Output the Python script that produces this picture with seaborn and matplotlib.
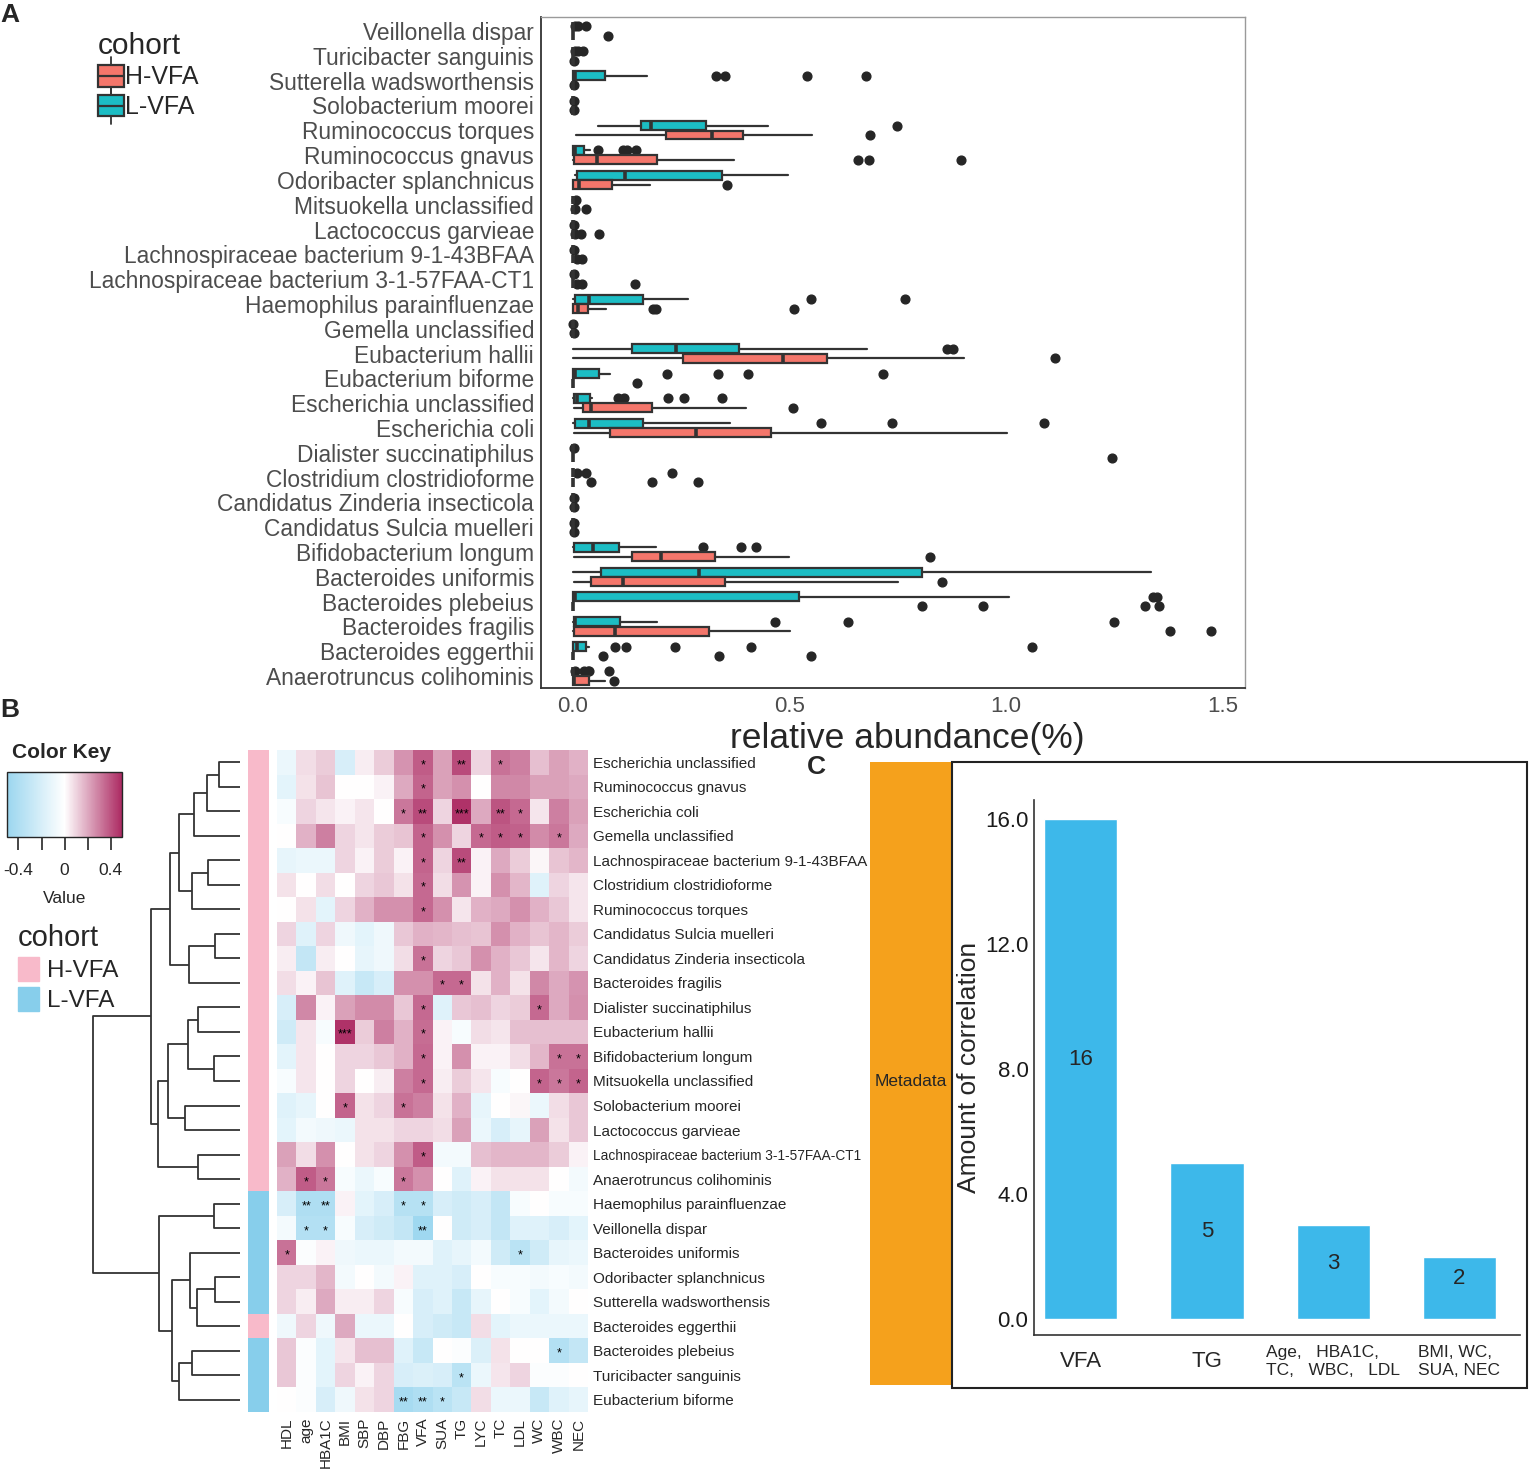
import matplotlib
matplotlib.use("Agg")
import numpy as np
import pandas as pd
import matplotlib.pyplot as plt
import seaborn as sns
from matplotlib.patches import Rectangle, Patch
from matplotlib.lines import Line2D
from matplotlib.legend_handler import HandlerBase
from matplotlib.colors import LinearSegmentedColormap, ListedColormap, Normalize
from matplotlib import font_manager
import matplotlib.cm as cm

# ---------------------------------------------------------------- data: panel A
species_A = ["Veillonella dispar", "Turicibacter sanguinis", "Sutterella wadsworthensis",
             "Solobacterium moorei", "Ruminococcus torques", "Ruminococcus gnavus",
             "Odoribacter splanchnicus", "Mitsuokella unclassified", "Lactococcus garvieae",
             "Lachnospiraceae bacterium 9-1-43BFAA", "Lachnospiraceae bacterium 3-1-57FAA-CT1",
             "Haemophilus parainfluenzae", "Gemella unclassified", "Eubacterium hallii",
             "Eubacterium biforme", "Escherichia unclassified", "Escherichia coli",
             "Dialister succinatiphilus", "Clostridium clostridioforme",
             "Candidatus Zinderia insecticola", "Candidatus Sulcia muelleri",
             "Bifidobacterium longum", "Bacteroides uniformis", "Bacteroides plebeius",
             "Bacteroides fragilis", "Bacteroides eggerthii", "Anaerotruncus colihominis"]

# (whisker low, Q1, median, Q3, whisker high)
L_box = [(0, 0, 0, 0, 0), (0, 0, 0, 0, 0), (0, 0, 0.004, 0.073, 0.171), (0, 0, 0, 0, 0),
         (0.058, 0.157, 0.18, 0.306, 0.451), (0, 0, 0.004, 0.025, 0.04),
         (0.004, 0.009, 0.121, 0.343, 0.496), (0, 0, 0, 0, 0), (0, 0, 0, 0, 0),
         (0, 0, 0, 0, 0), (0, 0, 0, 0, 0), (0, 0.004, 0.038, 0.161, 0.265), (0, 0, 0, 0, 0),
         (0, 0.137, 0.237, 0.383, 0.679), (0, 0, 0.005, 0.059, 0.085),
         (0, 0.002, 0.01, 0.039, 0.044), (0, 0.005, 0.036, 0.162, 0.363), (0, 0, 0, 0, 0),
         (0, 0, 0, 0, 0), (0, 0, 0, 0, 0), (0, 0, 0, 0, 0), (0, 0.002, 0.046, 0.106, 0.192),
         (0, 0.064, 0.29, 0.805, 1.335), (0, 0, 0.005, 0.523, 1.008),
         (0, 0.002, 0.005, 0.108, 0.195), (0, 0, 0.01, 0.029, 0.036), (0, 0, 0, 0, 0)]
L_fliers = [[0.004, 0.011, 0.031], [0.005, 0.012, 0.022], [0.33, 0.35, 0.54, 0.676], [0.002],
            [0.749], [0.058, 0.115, 0.124, 0.146], [], [0.006], [0.002], [0.002], [0.002],
            [0.549, 0.767], [0.001], [0.864, 0.878], [0.216, 0.334, 0.403, 0.716],
            [0.103, 0.118, 0.219, 0.257, 0.345], [0.573, 0.736, 1.088], [0.002],
            [0.01, 0.031, 0.228], [0.002], [0.002], [0.301, 0.389, 0.422], [], [1.34, 1.348],
            [0.466, 0.635, 1.25], [0.096, 0.123, 0.235, 0.412, 1.06],
            [0.004, 0.026, 0.034, 0.038, 0.084]]

H_box = [(0, 0, 0, 0, 0), (0, 0, 0, 0, 0), (0, 0, 0, 0, 0), (0, 0, 0, 0, 0),
         (0.006, 0.214, 0.321, 0.392, 0.553), (0, 0.002, 0.055, 0.194, 0.372),
         (0, 0, 0.014, 0.089, 0.177), (0, 0, 0, 0, 0), (0, 0, 0, 0, 0), (0, 0, 0, 0, 0),
         (0, 0, 0, 0, 0), (0, 0, 0.012, 0.035, 0.075), (0, 0, 0, 0, 0),
         (0, 0.255, 0.484, 0.586, 0.903), (0, 0, 0, 0, 0), (0.002, 0.023, 0.041, 0.183, 0.399),
         (0.002, 0.085, 0.283, 0.457, 1.003), (0, 0, 0, 0, 0), (0, 0, 0, 0, 0),
         (0, 0, 0, 0, 0), (0, 0, 0, 0, 0), (0.002, 0.137, 0.203, 0.327, 0.499),
         (0.002, 0.041, 0.115, 0.35, 0.751), (0, 0, 0, 0, 0), (0, 0.003, 0.096, 0.314, 0.501),
         (0, 0, 0, 0, 0), (0, 0, 0.003, 0.036, 0.074)]
H_fliers = [[0.081], [0.002], [0.002], [0.003], [0.687], [0.658, 0.684, 0.896], [0.355],
            [0.004, 0.029], [0.004, 0.019, 0.059], [0.008, 0.021], [0.008, 0.021, 0.144],
            [0.184, 0.192, 0.511], [0.002], [1.113], [0.147], [0.508], [], [1.245],
            [0.041, 0.183, 0.289], [0.002], [0.002], [0.825], [0.852],
            [0.805, 0.947, 1.32, 1.353], [1.378, 1.474], [0.07, 0.337, 0.549], [0.095]]

# ---------------------------------------------------------------- data: panel B
species_B = ["Escherichia unclassified", "Ruminococcus gnavus", "Escherichia coli",
             "Gemella unclassified", "Lachnospiraceae bacterium 9-1-43BFAA",
             "Clostridium clostridioforme", "Ruminococcus torques", "Candidatus Sulcia muelleri",
             "Candidatus Zinderia insecticola", "Bacteroides fragilis",
             "Dialister succinatiphilus", "Eubacterium hallii", "Bifidobacterium longum",
             "Mitsuokella unclassified", "Solobacterium moorei", "Lactococcus garvieae",
             "Lachnospiraceae bacterium 3-1-57FAA-CT1", "Anaerotruncus colihominis",
             "Haemophilus parainfluenzae", "Veillonella dispar", "Bacteroides uniformis",
             "Odoribacter splanchnicus", "Sutterella wadsworthensis", "Bacteroides eggerthii",
             "Bacteroides plebeius", "Turicibacter sanguinis", "Eubacterium biforme"]
cohort_B = ["H-VFA"] * 18 + ["L-VFA"] * 5 + ["H-VFA"] + ["L-VFA"] * 3
metadata_vars = ["HDL", "age", "HBA1C", "BMI", "SBP", "DBP", "FBG", "VFA", "SUA", "TG",
                 "LYC", "TC", "LDL", "WC", "WBC", "NEC"]
corr_values = [
    [-0.10, 0.08, 0.12, -0.20, 0.04, 0.12, 0.25, 0.38, 0.22, 0.42, 0.10, 0.33, 0.30, 0.15, 0.22, 0.18],
    [-0.14, 0.07, 0.14, 0.00, 0.00, 0.03, 0.20, 0.36, 0.22, 0.26, 0.00, 0.28, 0.28, 0.22, 0.22, 0.20],
    [-0.04, 0.10, 0.06, 0.03, 0.06, 0.00, 0.32, 0.42, 0.10, 0.48, 0.20, 0.40, 0.35, 0.06, 0.30, 0.22],
    [0.00, 0.18, 0.30, 0.10, 0.06, 0.12, 0.14, 0.36, 0.26, 0.10, 0.35, 0.38, 0.37, 0.27, 0.32, 0.20],
    [-0.12, -0.10, -0.10, 0.10, 0.03, 0.12, 0.03, 0.36, 0.10, 0.42, 0.03, 0.20, 0.12, 0.02, 0.14, 0.17],
    [0.07, 0.00, 0.08, 0.00, 0.10, 0.13, 0.07, 0.35, 0.08, 0.25, 0.03, 0.26, 0.17, -0.16, 0.10, 0.06],
    [0.00, 0.07, -0.14, 0.10, 0.18, 0.26, 0.26, 0.35, 0.26, 0.06, 0.18, 0.20, 0.26, 0.18, 0.13, 0.06],
    [0.10, -0.16, 0.10, -0.08, -0.14, -0.08, 0.13, 0.18, 0.17, 0.15, 0.14, 0.26, 0.18, 0.14, 0.17, 0.12],
    [0.04, -0.30, 0.04, 0.00, -0.12, -0.08, 0.08, 0.33, 0.10, 0.13, 0.26, 0.18, 0.13, 0.06, 0.17, 0.10],
    [0.08, 0.03, 0.14, -0.16, -0.28, -0.20, 0.26, 0.26, 0.35, 0.35, 0.07, 0.18, 0.07, 0.28, 0.20, 0.25],
    [-0.20, 0.28, 0.03, 0.22, 0.27, 0.27, 0.13, 0.35, -0.16, 0.13, 0.15, 0.10, 0.12, 0.35, 0.20, 0.26],
    [-0.24, 0.06, -0.04, 0.48, 0.12, 0.30, 0.18, 0.34, 0.03, -0.04, 0.08, 0.06, 0.15, 0.15, 0.15, 0.15],
    [-0.14, 0.06, 0.00, 0.10, 0.10, 0.13, 0.18, 0.35, 0.03, 0.26, 0.03, 0.03, 0.08, 0.17, 0.33, 0.33],
    [-0.04, 0.06, 0.00, 0.10, 0.00, 0.04, 0.30, 0.35, 0.04, 0.12, 0.06, -0.04, 0.00, 0.36, 0.32, 0.36],
    [-0.16, -0.12, 0.00, 0.36, 0.07, 0.10, 0.33, 0.30, 0.07, 0.18, -0.12, 0.00, 0.02, -0.10, 0.08, 0.13],
    [-0.14, -0.06, -0.08, -0.10, 0.07, 0.07, 0.10, 0.10, 0.08, 0.22, -0.10, -0.20, -0.12, 0.22, 0.07, 0.13],
    [0.22, 0.08, 0.26, 0.00, 0.07, 0.10, 0.26, 0.38, -0.06, -0.06, 0.15, 0.17, 0.17, 0.17, 0.12, 0.03],
    [0.18, 0.38, 0.32, -0.04, -0.10, -0.04, 0.32, 0.26, 0.00, -0.16, 0.03, 0.07, 0.07, 0.07, 0.00, -0.06],
    [-0.20, -0.40, -0.40, 0.03, -0.14, -0.20, -0.36, -0.36, -0.20, -0.24, -0.20, -0.30, -0.04, 0.00, -0.04, -0.04],
    [-0.06, -0.38, -0.38, -0.04, -0.20, -0.24, -0.30, -0.48, 0.00, -0.24, -0.20, -0.30, -0.16, -0.16, -0.20, -0.14],
    [0.33, -0.02, 0.03, -0.08, -0.10, -0.10, -0.06, -0.06, -0.16, -0.12, -0.06, -0.24, -0.34, -0.24, -0.12, -0.10],
    [0.10, 0.10, 0.17, -0.06, 0.00, -0.06, 0.03, -0.16, -0.16, -0.20, 0.00, -0.04, -0.04, -0.06, -0.04, -0.06],
    [0.10, 0.04, 0.20, 0.04, 0.04, 0.10, -0.04, -0.20, -0.16, -0.28, -0.12, 0.00, -0.04, -0.14, -0.06, 0.00],
    [-0.08, 0.10, -0.08, 0.20, -0.10, -0.10, 0.00, -0.20, -0.24, -0.28, 0.08, -0.14, -0.10, -0.10, -0.10, -0.10],
    [0.13, -0.02, -0.14, 0.06, 0.15, 0.15, -0.16, -0.28, 0.00, -0.02, -0.18, 0.07, 0.00, 0.00, -0.38, -0.30],
    [0.13, -0.02, -0.14, 0.10, 0.03, 0.10, -0.20, -0.18, -0.20, -0.34, -0.10, 0.06, 0.10, -0.02, -0.02, 0.00],
    [0.00, -0.02, -0.20, -0.08, 0.07, 0.10, -0.44, -0.40, -0.34, -0.28, 0.08, -0.10, -0.10, -0.28, -0.16, -0.12],
]
significance = [
    ("Escherichia unclassified", "VFA", "*"), ("Escherichia unclassified", "TG", "**"),
    ("Escherichia unclassified", "TC", "*"), ("Ruminococcus gnavus", "VFA", "*"),
    ("Escherichia coli", "FBG", "*"), ("Escherichia coli", "VFA", "**"),
    ("Escherichia coli", "TG", "***"), ("Escherichia coli", "TC", "**"),
    ("Escherichia coli", "LDL", "*"), ("Gemella unclassified", "VFA", "*"),
    ("Gemella unclassified", "LYC", "*"), ("Gemella unclassified", "TC", "*"),
    ("Gemella unclassified", "LDL", "*"), ("Gemella unclassified", "WBC", "*"),
    ("Lachnospiraceae bacterium 9-1-43BFAA", "VFA", "*"),
    ("Lachnospiraceae bacterium 9-1-43BFAA", "TG", "**"),
    ("Clostridium clostridioforme", "VFA", "*"), ("Ruminococcus torques", "VFA", "*"),
    ("Candidatus Zinderia insecticola", "VFA", "*"), ("Bacteroides fragilis", "SUA", "*"),
    ("Bacteroides fragilis", "TG", "*"), ("Dialister succinatiphilus", "VFA", "*"),
    ("Dialister succinatiphilus", "WC", "*"), ("Eubacterium hallii", "BMI", "***"),
    ("Eubacterium hallii", "VFA", "*"), ("Bifidobacterium longum", "VFA", "*"),
    ("Bifidobacterium longum", "WBC", "*"), ("Bifidobacterium longum", "NEC", "*"),
    ("Mitsuokella unclassified", "VFA", "*"), ("Mitsuokella unclassified", "WC", "*"),
    ("Mitsuokella unclassified", "WBC", "*"), ("Mitsuokella unclassified", "NEC", "*"),
    ("Solobacterium moorei", "BMI", "*"), ("Solobacterium moorei", "FBG", "*"),
    ("Lachnospiraceae bacterium 3-1-57FAA-CT1", "VFA", "*"),
    ("Anaerotruncus colihominis", "age", "*"), ("Anaerotruncus colihominis", "HBA1C", "*"),
    ("Anaerotruncus colihominis", "FBG", "*"), ("Haemophilus parainfluenzae", "age", "**"),
    ("Haemophilus parainfluenzae", "HBA1C", "**"), ("Haemophilus parainfluenzae", "FBG", "*"),
    ("Haemophilus parainfluenzae", "VFA", "*"), ("Veillonella dispar", "age", "*"),
    ("Veillonella dispar", "HBA1C", "*"), ("Veillonella dispar", "VFA", "**"),
    ("Bacteroides uniformis", "HDL", "*"), ("Bacteroides uniformis", "LDL", "*"),
    ("Bacteroides plebeius", "WBC", "*"), ("Turicibacter sanguinis", "TG", "*"),
    ("Eubacterium biforme", "FBG", "**"), ("Eubacterium biforme", "VFA", "**"),
    ("Eubacterium biforme", "SUA", "*"),
]
# hierarchical clustering of rows: (child a, child b, merge height); leaves 0..26, new ids 27..
dendro_merges = [(0, 1, 21), (27, 2, 33), (28, 3, 46), (4, 5, 32), (30, 6, 48), (29, 31, 61),
                 (7, 8, 25), (33, 9, 51), (32, 34, 70), (10, 11, 42), (12, 13, 26),
                 (36, 37, 52), (14, 15, 55), (38, 39, 72), (16, 17, 42), (40, 41, 82),
                 (35, 42, 89), (18, 19, 26), (21, 22, 25), (45, 23, 43), (20, 46, 50),
                 (24, 25, 48), (48, 26, 61), (47, 49, 68), (44, 50, 81), (43, 51, 147)]

# ---------------------------------------------------------------- data: panel C
c_labels = ["VFA", "TG", "Age,   HBA1C,\nTC,   WBC,   LDL", "BMI, WC,\nSUA, NEC"]
c_counts = [16, 5, 3, 2]

# ---------------------------------------------------------------- style
sns.set_style("white")
plt.rcParams["font.family"] = ["Liberation Sans", "DejaVu Sans"]

try:
    font_manager.findfont("Liberation Sans Narrow", fallback_to_default=False)
    NARROW = ["Liberation Sans Narrow"]
    NARROW_SIZE = 15
except Exception:
    NARROW = ["Liberation Sans"]
    NARROW_SIZE = 12.5

TEAL, RED = "#1CBDC4", "#F4766B"
PINK, BLUE = "#F8BACA", "#87CEEB"
EDGE = "#333333"

W, H = 1536, 1471
fig = plt.figure(figsize=(W / 100, H / 100), dpi=100)


def fx(px):
    return px / W


def fy(py):
    return 1 - py / H


def rect(l, t, r, b):
    return [l / W, 1 - b / H, (r - l) / W, (b - t) / H]


# ================================================================ panel A
axA = fig.add_axes(rect(541, 17, 1245, 688))
pos = np.arange(len(species_A))


def make_stats(boxes, fliers):
    return [dict(whislo=b[0], q1=b[1], med=b[2], q3=b[3], whishi=b[4], fliers=f)
            for b, f in zip(boxes, fliers)]


for boxes, fl, off, col in [(L_box, L_fliers, -0.19, TEAL), (H_box, H_fliers, 0.19, RED)]:
    kw = dict(positions=pos + off, widths=0.36, patch_artist=True, showcaps=False,
              manage_ticks=False,
              boxprops=dict(facecolor=col, edgecolor=EDGE, linewidth=1.6),
              medianprops=dict(color=EDGE, linewidth=2.6),
              whiskerprops=dict(color=EDGE, linewidth=1.6),
              flierprops=dict(marker="o", markerfacecolor="#262626",
                              markeredgecolor="#262626", markersize=6.3))
    try:
        axA.bxp(make_stats(boxes, fl), orientation="horizontal", **kw)
    except TypeError:
        axA.bxp(make_stats(boxes, fl), vert=False, **kw)

axA.set_ylim(26.48, -0.565)
axA.set_xlim(-0.074, 1.552)
axA.set_yticks(pos)
axA.set_yticklabels(species_A, fontsize=16.4, color="#4D4D4D")
axA.set_xticks([0, 0.5, 1.0, 1.5])
axA.set_xticklabels(["0.0", "0.5", "1.0", "1.5"], fontsize=16, color="#4D4D4D")
axA.tick_params(axis="y", length=4, width=1.3, color=EDGE, pad=1)
axA.tick_params(axis="x", length=4, width=1.3, color=EDGE, pad=2)
axA.set_xlabel("relative abundance(%)", fontsize=25.5, labelpad=0)
axA.xaxis.set_label_coords(0.52, -0.05)
for s in ["left", "bottom"]:
    axA.spines[s].set_color(EDGE)
    axA.spines[s].set_linewidth(1.3)
for s in ["top", "right"]:
    axA.spines[s].set_color("#9A9A9A")
    axA.spines[s].set_linewidth(1.0)


class BoxGlyph(HandlerBase):
    def create_artists(self, legend, orig_handle, xdescent, ydescent, width, height,
                       fontsize, trans):
        fc = orig_handle.get_facecolor()
        x0, y0 = -xdescent, -ydescent
        cx = x0 + width / 2
        wl = Line2D([cx, cx], [y0 - 0.35 * height, y0 + 1.35 * height], color=EDGE, lw=1.3,
                    transform=trans)
        r = Rectangle((x0, y0), width, height, facecolor=fc, edgecolor=EDGE, lw=1.6,
                      transform=trans)
        m = Line2D([x0, x0 + width], [y0 + height / 2] * 2, color=EDGE, lw=1.6, transform=trans)
        return [wl, r, m]


legA = fig.legend(handles=[Patch(facecolor=RED), Patch(facecolor=TEAL)],
                  labels=["H-VFA", "L-VFA"], handler_map={Patch: BoxGlyph()},
                  title="cohort", loc="upper left", bbox_to_anchor=(fx(85), fy(19)),
                  frameon=False, fontsize=18, title_fontsize=21.5, handlelength=1.05,
                  handleheight=0.95, handletextpad=0.05, labelspacing=0.22, borderpad=0,
                  alignment="left")

# ================================================================ panel B
cmap = LinearSegmentedColormap.from_list("key", ["#9BD6EF", "#FFFFFF", "#AC2A62"])

axD = fig.add_axes(rect(80, 750, 240, 1412))
axCoh = fig.add_axes(rect(248, 750, 269, 1412))
axH = fig.add_axes(rect(277, 750, 588, 1412))

df = pd.DataFrame(corr_values, index=species_B, columns=metadata_vars)
stars = pd.DataFrame("", index=species_B, columns=metadata_vars)
for sp, var, st in significance:
    stars.loc[sp, var] = st

sns.heatmap(df, cmap=cmap, vmin=-0.5, vmax=0.5, cbar=False, ax=axH,
            annot=stars.values, fmt="", annot_kws=dict(fontsize=9, color="black"))
for t in axH.texts:
    x, y = t.get_position()
    t.set_position((x, y + 0.12))
axH.tick_params(axis="y", left=False, right=False, labelleft=False, labelright=True, pad=0)
axH.set_yticks(np.arange(len(species_B)) + 0.5)
axH.set_yticklabels(species_B, rotation=0, fontsize=11)
for lab in axH.get_yticklabels():
    if lab.get_text().endswith("CT1"):
        lab.set_fontsize(9.8)
axH.set_xticks(np.arange(len(metadata_vars)) + 0.5)
axH.set_xticklabels(metadata_vars, rotation=90, fontsize=11)
axH.tick_params(axis="x", length=0, pad=4)
axH.set_xlabel("")
axH.set_ylabel("")

coh_df = pd.DataFrame({"cohort": [0 if c == "H-VFA" else 1 for c in cohort_B]})
sns.heatmap(coh_df, cmap=ListedColormap([PINK, BLUE]), vmin=0, vmax=1, cbar=False,
            ax=axCoh, xticklabels=False, yticklabels=False)

# dendrogram
n_leaves = len(species_B)
node_y = {i: i + 0.5 for i in range(n_leaves)}
node_h = {i: 0.0 for i in range(n_leaves)}
for k, (a, b, h) in enumerate(dendro_merges):
    axD.plot([node_h[a], h, h, node_h[b]], [node_y[a], node_y[a], node_y[b], node_y[b]],
             color="#333333", lw=1.3, solid_capstyle="butt")
    nid = n_leaves + k
    node_y[nid] = (node_y[a] + node_y[b]) / 2
    node_h[nid] = h
axD.set_xlim(160, 0)
axD.set_ylim(n_leaves, 0)
axD.axis("off")

# color key
fig.text(fx(12), fy(752), "Color Key", fontsize=15, fontweight="bold", va="center")
cax = fig.add_axes(rect(7, 772, 122, 837))
cb = fig.colorbar(cm.ScalarMappable(norm=Normalize(-0.5, 0.5), cmap=cmap), cax=cax,
                  orientation="horizontal", ticks=[-0.4, -0.2, 0, 0.2, 0.4])
cb.set_ticklabels(["-0.4", "", "0", "", "0.4"])
cb.outline.set_linewidth(1.0)
cax.tick_params(length=9, width=1.2, labelsize=12.5, pad=10)
cax.set_xlabel("Value", fontsize=12.5, labelpad=9)

legB = fig.legend(handles=[Patch(color=PINK), Patch(color=BLUE)], labels=["H-VFA", "L-VFA"],
                  title="cohort", loc="upper left", bbox_to_anchor=(fx(6), fy(912)),
                  frameon=False, fontsize=17.5, title_fontsize=21, handlelength=0.85,
                  handleheight=1.15, handletextpad=0.35, labelspacing=0.2, borderpad=0,
                  alignment="left")

# ================================================================ panel C
fig.add_artist(Rectangle((fx(870), fy(1385)), (952 - 870) / W, (1385 - 762) / H,
                         transform=fig.transFigure, facecolor="#F5A11C", edgecolor="none"))
fig.add_artist(Rectangle((fx(952), fy(1388)), (1527 - 952) / W, (1388 - 762) / H,
                         transform=fig.transFigure, fill=False, edgecolor="#222222", lw=1.5))
fig.text(fx(911), fy(1081), "Metadata", ha="center", va="center", fontsize=12.5)

axC = fig.add_axes(rect(1034, 800, 1520, 1335))
sns.barplot(x=c_labels, y=c_counts, color="#3DB8EA", saturation=1, width=0.58,
            errorbar=None, ax=axC)
axC.set_xlim(-0.37, 3.48)
axC.set_ylim(-0.5, 16.6)
axC.set_yticks([0, 4, 8, 12, 16])
axC.set_yticklabels(["0.0", "4.0", "8.0", "12.0", "16.0"], fontsize=16, color="#1A1A1A")
axC.tick_params(axis="y", length=3, width=1, color=EDGE, pad=1)
axC.set_ylabel("Amount of correlation", fontsize=19, labelpad=3)
axC.set_xticks(range(len(c_labels)))
axC.set_xticklabels(c_labels)
for i, lab in enumerate(axC.get_xticklabels()):
    if i < 2:
        lab.set_fontsize(16)
    else:
        lab.set_fontsize(NARROW_SIZE)
        lab.set_family(NARROW)
    lab.set_verticalalignment("center")
    lab.set_multialignment("left")
axC.tick_params(axis="x", length=0, pad=19)
for i, v in enumerate(c_counts):
    axC.text(i, v / 2 + 0.3, str(v), ha="center", va="center", fontsize=16)
for s in ["top", "right"]:
    axC.spines[s].set_visible(False)
for s in ["left", "bottom"]:
    axC.spines[s].set_color(EDGE)
    axC.spines[s].set_linewidth(1.2)
axC.set_facecolor("none")

# ================================================================ panel letters
fig.text(fx(0), fy(15), "A", fontsize=19, fontweight="bold", va="center")
fig.text(fx(0), fy(710), "B", fontsize=19, fontweight="bold", va="center")
fig.text(fx(807), fy(767), "C", fontsize=19, fontweight="bold", va="center")

fig.savefig("out.png", dpi=100)
